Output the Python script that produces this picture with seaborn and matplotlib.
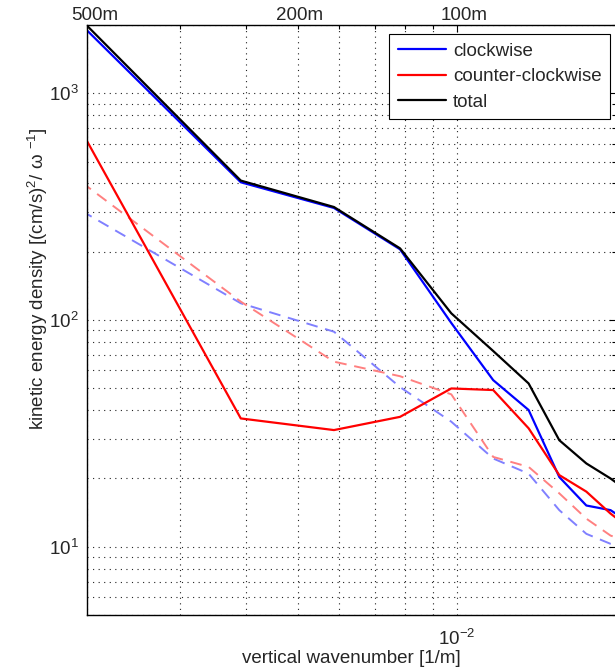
import numpy as np
import pandas as pd
import matplotlib
matplotlib.use("Agg")
import matplotlib.pyplot as plt
import matplotlib.ticker as mticker
import seaborn as sns

# ---------------- data ----------------
wavenumber = [1/512, 2/512, 3/512, 4/512, 5/512, 6/512, 7/512, 8/512, 9/512, 10/512, 11/512]
clockwise = [2000, 405, 312, 205, 97, 54.3, 40.1, 20.3, 15.2, 14.5, 12.5]
counter_clockwise = [680, 36.8, 32.7, 37.4, 49.9, 49.1, 33.3, 20.7, 17.5, 14.0, 11.8]
total = [2100, 412, 315, 207, 107, 73, 52.5, 29.5, 23.3, 20.0, 17.0]
clockwise_ref = [303, 118.5, 88.8, 50.6, 35.6, 24.5, 21.0, 14.5, 11.4, 10.3, 9.8]
counter_clockwise_ref = [405, 120.5, 65.5, 56.5, 47.0, 24.9, 22.5, 17.2, 13.3, 11.2, 10.4]

series_names = ["clockwise", "counter-clockwise", "total"]
top_labels = ["500m", "200m", "100m"]
top_label_pos = [1/500, 1/200, 1/100]
xlim = (0.002, 0.02)
ylim = (5, 2000)

# ---------------- style ----------------
sns.set_style("white")
plt.rcParams["font.family"] = ["Liberation Sans", "DejaVu Sans"]
plt.rcParams["mathtext.fontset"] = "custom"
plt.rcParams["mathtext.rm"] = "Liberation Sans"
plt.rcParams["mathtext.it"] = "Liberation Sans:italic"
plt.rcParams["mathtext.default"] = "regular"

fig = plt.figure(figsize=(6.15, 6.72), dpi=100)
ax = fig.add_axes([87/615, 1 - 615/672, 529/615, 590/672])

df_dash = pd.DataFrame({"k": wavenumber * 2,
                        "E": clockwise_ref + counter_clockwise_ref,
                        "s": ["cw"] * len(wavenumber) + ["ccw"] * len(wavenumber)})
df_solid = pd.DataFrame({"k": wavenumber * 3,
                         "E": clockwise + counter_clockwise + total,
                         "s": [series_names[0]] * len(wavenumber)
                         + [series_names[1]] * len(wavenumber)
                         + [series_names[2]] * len(wavenumber)})

dash = (6, 4)
sns.lineplot(data=df_dash[df_dash.s == "cw"], x="k", y="E", color="#8080ff",
             lw=1.4, ax=ax, estimator=None, sort=False, dashes=False, legend=False)
sns.lineplot(data=df_dash[df_dash.s == "ccw"], x="k", y="E", color="#ff8080",
             lw=1.4, ax=ax, estimator=None, sort=False, dashes=False, legend=False)
for l in ax.get_lines():
    l.set_dashes(dash)

colors = {"clockwise": "#0000ff", "counter-clockwise": "#ff0000", "total": "#000000"}
sns.lineplot(data=df_solid, x="k", y="E", hue="s", palette=colors,
             hue_order=series_names, lw=1.6, ax=ax, estimator=None, sort=False)

ax.set_xscale("log")
ax.set_yscale("log")
ax.set_xlim(*xlim)
ax.set_ylim(*ylim)

ax.xaxis.set_major_locator(mticker.LogLocator(base=10, numticks=10))
ax.xaxis.set_minor_locator(mticker.LogLocator(base=10, subs=np.arange(2, 10), numticks=20))
ax.yaxis.set_major_locator(mticker.LogLocator(base=10, numticks=10))
ax.yaxis.set_minor_locator(mticker.LogLocator(base=10, subs=np.arange(2, 10), numticks=20))
ax.xaxis.set_minor_formatter(mticker.NullFormatter())
ax.yaxis.set_minor_formatter(mticker.NullFormatter())

ax.grid(True, which="both", linestyle=(0, (1, 4)), linewidth=0.8, color="#222222")
ax.tick_params(which="both", direction="in", top=True, right=True, labelsize=13.5,
               color="black")
ax.tick_params(which="major", length=5, width=0.8, pad=6)
ax.tick_params(axis="x", which="major", pad=10)
ax.tick_params(which="minor", length=3, width=0.8)
for sp in ax.spines.values():
    sp.set_color("black")
    sp.set_linewidth(1.0)

ax.set_xlabel("vertical wavenumber [1/m]", fontsize=13.5, labelpad=1)
ax.set_ylabel(r"kinetic energy density [(cm/s)$^2$/ $\omega$ $^{-1}$]", fontsize=13.5)
ax.yaxis.set_label_coords(-0.07, 0.57)

for lab, pos, off in zip(top_labels, top_label_pos, [8, 2, 7]):
    ax.annotate(lab, xy=(pos, 1.0), xycoords=("data", "axes fraction"),
                xytext=(off * 0.72, 1), textcoords="offset points",
                ha="center", va="bottom", fontsize=13.5, annotation_clip=False)

handles, labels = ax.get_legend_handles_labels()
leg = ax.legend(handles, labels, loc="upper right", bbox_to_anchor=(0.9887, 0.9847),
                borderaxespad=0, fontsize=13.5, frameon=True, fancybox=False,
                edgecolor="black", framealpha=1, handlelength=2.6, handletextpad=0.35,
                labelspacing=0.45, borderpad=0.45)
leg.get_frame().set_linewidth(0.8)

fig.savefig("out.png", dpi=100)
